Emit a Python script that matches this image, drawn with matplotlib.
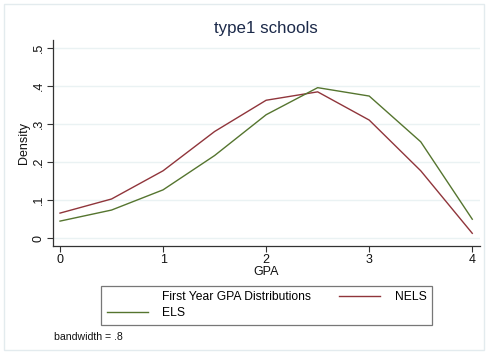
import matplotlib
matplotlib.use("Agg")
import matplotlib.pyplot as plt
from matplotlib.lines import Line2D
from matplotlib.patches import Rectangle

plt.rcParams['font.family'] = ['Liberation Sans', 'DejaVu Sans']

# Kernel density estimates of first-year GPA, evaluated on a 0.5 grid
gpa = [0, 0.5, 1, 1.5, 2, 2.5, 3, 3.5, 4]
nels = [0.066, 0.103, 0.177, 0.280, 0.362, 0.384, 0.310, 0.177, 0.013]
els = [0.045, 0.074, 0.127, 0.217, 0.324, 0.395, 0.373, 0.253, 0.050]
yticks = [0, 0.1, 0.2, 0.3, 0.4, 0.5]
ytick_labels = ["0", ".1", ".2", ".3", ".4", ".5"]
xticks = [0, 1, 2, 3, 4]

NELS_COLOR = "#90353b"
ELS_COLOR = "#55752f"
TEXT_COLOR = "#111111"
GRID_COLOR = "#eaf2f3"

fig = plt.figure(figsize=(4.87, 3.54), dpi=100)
W, H = 487, 354

# light outer frame around the graph region
fig.patches.append(Rectangle((4 / W, 4 / H), 480 / W, 346 / H, transform=fig.transFigure,
                             fill=False, edgecolor="#e3ebee", linewidth=1.0))

ax = fig.add_axes([53 / W, 1 - 245.7 / H, (480 - 53) / W, (245.7 - 40) / H])
ax.plot(gpa, nels, color=NELS_COLOR, linewidth=1.0)
ax.plot(gpa, els, color=ELS_COLOR, linewidth=1.0)

ax.set_xlim(-0.068, 4.075)
ax.set_ylim(-0.0195, 0.52)
ax.set_xticks(xticks)
ax.set_xticklabels([str(t) for t in xticks])
ax.set_yticks(yticks)
ax.set_yticklabels(ytick_labels, rotation=90, va="center")

ax.grid(axis="y", color=GRID_COLOR, linewidth=1.0)
ax.set_axisbelow(True)
for side in ("top", "right"):
    ax.spines[side].set_visible(False)
for side in ("left", "bottom"):
    ax.spines[side].set_color("#333333")
    ax.spines[side].set_linewidth(0.9)
ax.tick_params(direction="out", length=4, width=0.8, color="#333333",
               labelsize=9, labelcolor=TEXT_COLOR, pad=2)

ax.set_xlabel("GPA", fontsize=9, color=TEXT_COLOR, labelpad=0)
ax.set_ylabel("Density", fontsize=9, color=TEXT_COLOR, labelpad=2)

fig.text(266 / W, 1 - 29 / H, "type1 schools", ha="center", va="center",
         fontsize=12.2, color="#1c2a4a")

blank = Line2D([], [], color="none")
h_nels = Line2D([], [], color=NELS_COLOR, linewidth=1.0)
h_els = Line2D([], [], color=ELS_COLOR, linewidth=1.0)
leg = fig.legend([blank, h_els, h_nels],
                 ["First Year GPA Distributions", "ELS", "NELS"],
                 ncol=2, loc="center", bbox_to_anchor=(266.5 / W, 1 - 305.3 / H),
                 fontsize=8.7, frameon=True, fancybox=False, handlelength=3.4,
                 handletextpad=1.2, columnspacing=2.3, borderpad=0.45, labelspacing=0.35)
leg.get_frame().set_edgecolor("#555555")
leg.get_frame().set_linewidth(0.9)

fig.text(54 / W, 1 - 337 / H, "bandwidth = .8", ha="left", va="center",
         fontsize=7.6, color=TEXT_COLOR)

fig.savefig("out.png", dpi=100, facecolor="white")
